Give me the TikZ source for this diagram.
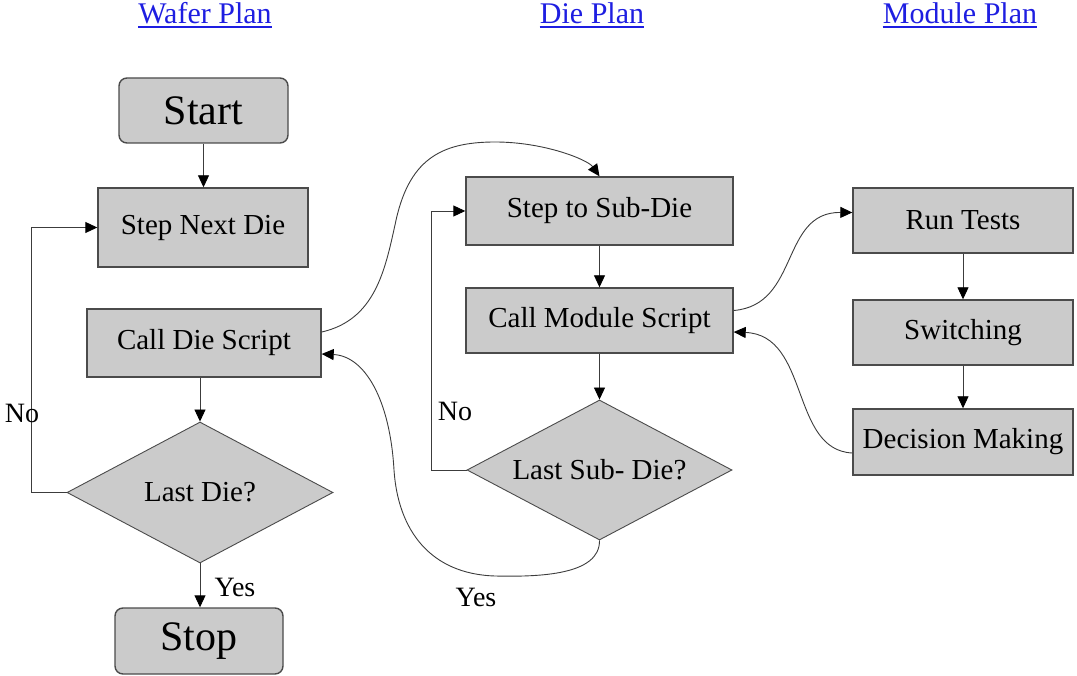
\documentclass[tikz,border=0pt]{standalone}
\usepackage{fontspec}
\setmainfont{Liberation Serif}
\usetikzlibrary{shapes.geometric,arrows.meta}
\definecolor{linkblue}{RGB}{30,30,225}
\definecolor{boxfill}{RGB}{203,203,203}
\definecolor{boxline}{RGB}{75,75,75}
\definecolor{wire}{RGB}{60,60,60}
\tikzset{
  stepbox/.style={draw=boxline, fill=boxfill, line width=1.4pt, inner sep=0pt, font=\fontsize{29}{34}\selectfont},
  termbox/.style={stepbox, rounded corners=8pt, font=\fontsize{42}{48}\selectfont},
  decbox/.style={draw=boxline, fill=boxfill, line width=0.9pt, diamond, aspect=1.89, inner sep=0pt, font=\fontsize{29}{34}\selectfont},
  header/.style={text=linkblue, font=\fontsize{30}{34}\selectfont, inner sep=0pt, anchor=base},
  lbl/.style={font=\fontsize{28}{32}\selectfont, inner sep=0pt},
  flow/.style={draw=wire, line width=0.9pt, -{Triangle[length=12pt,width=11pt,color=black]}},
}
\begin{document}
\begin{tikzpicture}[x=1pt,y=-1pt]
\useasboundingbox (0,0) rectangle (1077,676);
% headers
\node[header] (hw) at (205,24) {Wafer Plan};
\node[header] (hd) at (592,24) {Die Plan};
\node[header] (hm) at (960,24) {Module Plan};
\foreach \h in {hw,hd,hm} \draw[linkblue, line width=1.2pt] ([yshift=-3pt]\h.base west) -- ([yshift=-3pt]\h.base east);
% wafer plan
\node[termbox, minimum width=169pt, minimum height=65pt] (start) at (203.5,110.5) {Start};
\node[stepbox, minimum width=210pt, minimum height=79pt] (snd) at (203,227.5) {Step Next Die};
\node[stepbox, minimum width=234pt, minimum height=68pt] (cds) at (204,343) {Call Die Script};
\node[decbox, minimum width=266pt, minimum height=141pt] (ld) at (200,492.5) {Last Die?};
\node[termbox, minimum width=168pt, minimum height=66pt] (stop) at (199,641) {Stop};
\draw[flow] (start.south) -- (start.south |- snd.north);
\draw[flow] (ld.north |- cds.south) -- (ld.north);
\draw[flow] (ld.south) -- (ld.south |- stop.north);
\draw[flow] (ld.west) -- ++(-35,0) |- (snd.west);
\node[lbl] (nw) at (22,413) {No};
\node[lbl] (yw) at (235,587) {Yes};
% die plan
\node[stepbox, minimum width=267pt, minimum height=68pt] (ssd) at (599.5,211) {Step to Sub-Die};
\node[stepbox, minimum width=267pt, minimum height=65pt] (cms) at (599.5,320.5) {Call Module Script};
\node[decbox, minimum width=265pt, minimum height=140pt] (lsd) at (599.5,470) {Last Sub- Die?};
\draw[flow] (ssd.south) -- (cms.north);
\draw[flow] (cms.south) -- (lsd.north);
\draw[flow] (lsd.west) -- ++(-35,0) |- (ssd.west);
\node[lbl] (nd) at (455,411) {No};
\node[lbl] (yd) at (476,597) {Yes};
% module plan
\node[stepbox, minimum width=220pt, minimum height=65pt] (rt) at (963,220.5) {Run Tests};
\node[stepbox, minimum width=220pt, minimum height=65pt] (sw) at (963,332.5) {Switching};
\node[stepbox, minimum width=220pt, minimum height=66pt] (dm) at (963,442) {Decision Making};
\draw[flow] (rt.south) -- (sw.north);
\draw[flow] (sw.south) -- (dm.north);
% curved connectors
\draw[flow] ([yshift=11pt]cds.east) .. controls (375,320) and (385,270) .. (395,225)
  .. controls (408,160) and (440,142) .. (495,142)
  .. controls (545,142) and (588,160) .. (ssd.north);
\draw[flow] (lsd.south) .. controls (600,575) and (540,577) .. (495,576)
  .. controls (430,574) and (398,530) .. (394,470)
  .. controls (390,400) and (365,356) .. ([yshift=-11pt]cds.east);
\draw[flow] ([yshift=10pt]cms.east) .. controls (800,305) and (780,212) .. ([yshift=8pt]rt.west);
\draw[flow] ([yshift=-11pt]dm.west) .. controls (790,450) and (810,335) .. ([yshift=-11.5pt]cms.east);
\end{tikzpicture}
\end{document}
